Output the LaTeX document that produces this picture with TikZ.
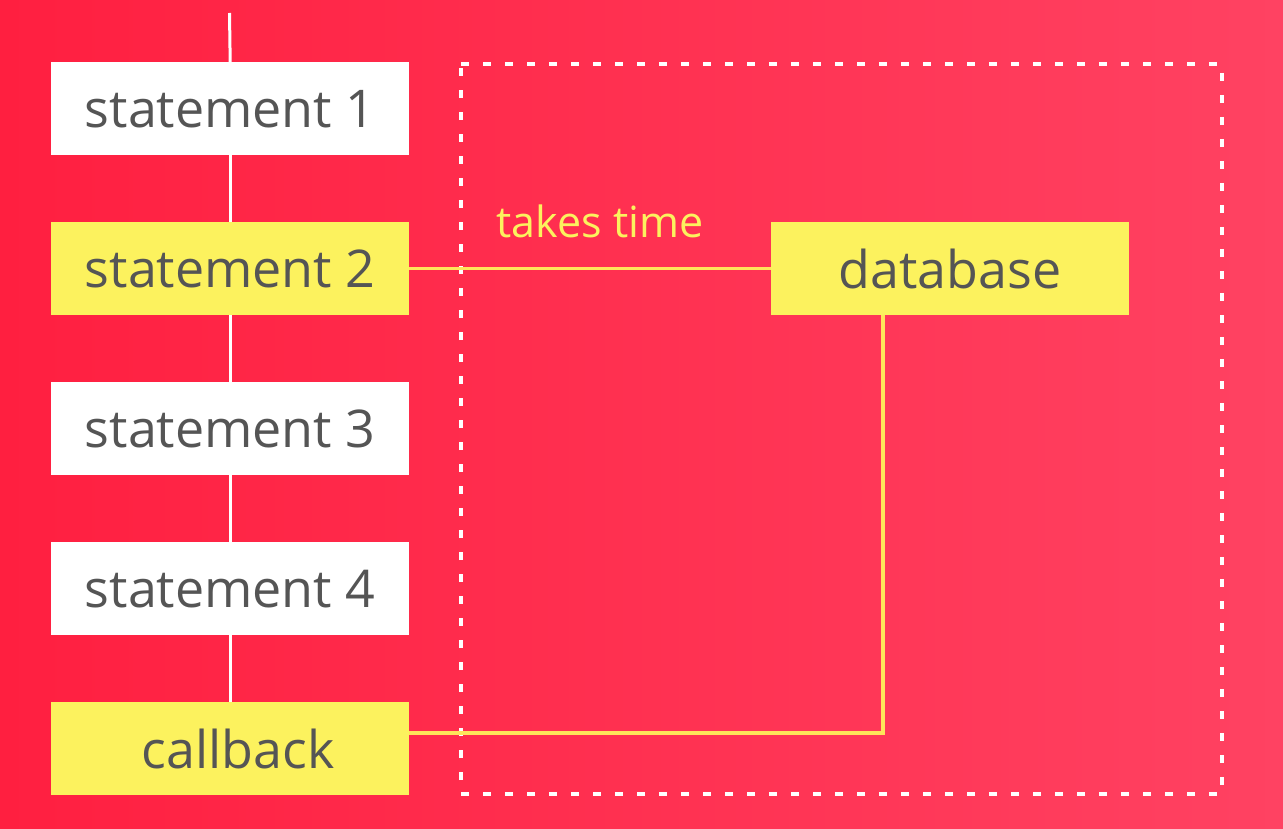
\documentclass[tikz,border=0pt]{standalone}
\usepackage{fontspec}
\setmainfont{Open Sans}
\definecolor{bgL}{HTML}{FF1F40}
\definecolor{bgR}{HTML}{FF4262}
\definecolor{ybox}{HTML}{FCF25E}
\definecolor{yline}{HTML}{FFE45A}
\definecolor{txt}{HTML}{555555}
\begin{document}
\begin{tikzpicture}[x=1pt,y=-1pt,
  box/.style={minimum width=358pt,minimum height=93pt,inner sep=0pt,anchor=north west,text=txt,font=\fontsize{52}{52}\selectfont},
  wbox/.style={box,fill=white},
  ybx/.style={box,fill=ybox},
  wline/.style={draw=white,line width=3pt},
  yl/.style={draw=yline,line width=3.5pt},
  dashrect/.style={draw=white,line width=3.5pt,dash pattern=on 8pt off 14pt}]
\shade[left color=bgL,right color=bgR,shading angle=90] (0,0) rectangle (1283,829);
\useasboundingbox (0,0) rectangle (1283,829);
\coordinate (top) at (229.5,13);
\coordinate (corner) at (883,733);
\node[wbox] (s1) at (51,62) {statement 1};
\node[ybx] (s2) at (51,222) {statement 2};
\node[wbox] (s3) at (51,382) {statement 3};
\node[wbox] (s4) at (51,542) {statement 4};
\node[ybx] (cb) at (51,702) {\hspace*{16pt}callback};
\node[ybx] (db) at (771,222) {database};
\coordinate (r1) at (461,64);
\coordinate (r2) at (1222,794);
\draw[dashrect] (r1) -- (r1 -| r2) -- (r2) -- (r2 -| r1) -- cycle;
\node[text=ybox,font=\fontsize{43}{43}\selectfont,anchor=base] (tt) at (600,238) {takes time};
\draw[wline] (top) -- (s1.north);
\draw[wline] (s1.south) -- (s2.north);
\draw[wline] (s2.south) -- (s3.north);
\draw[wline] (s3.south) -- (s4.north);
\draw[wline] (s4.south) -- (cb.north);
\draw[yl] (s2.east) -- (db.west);
\draw[yl] (db.south -| corner) -- (corner) -- (cb.east |- corner);
\end{tikzpicture}
\end{document}
